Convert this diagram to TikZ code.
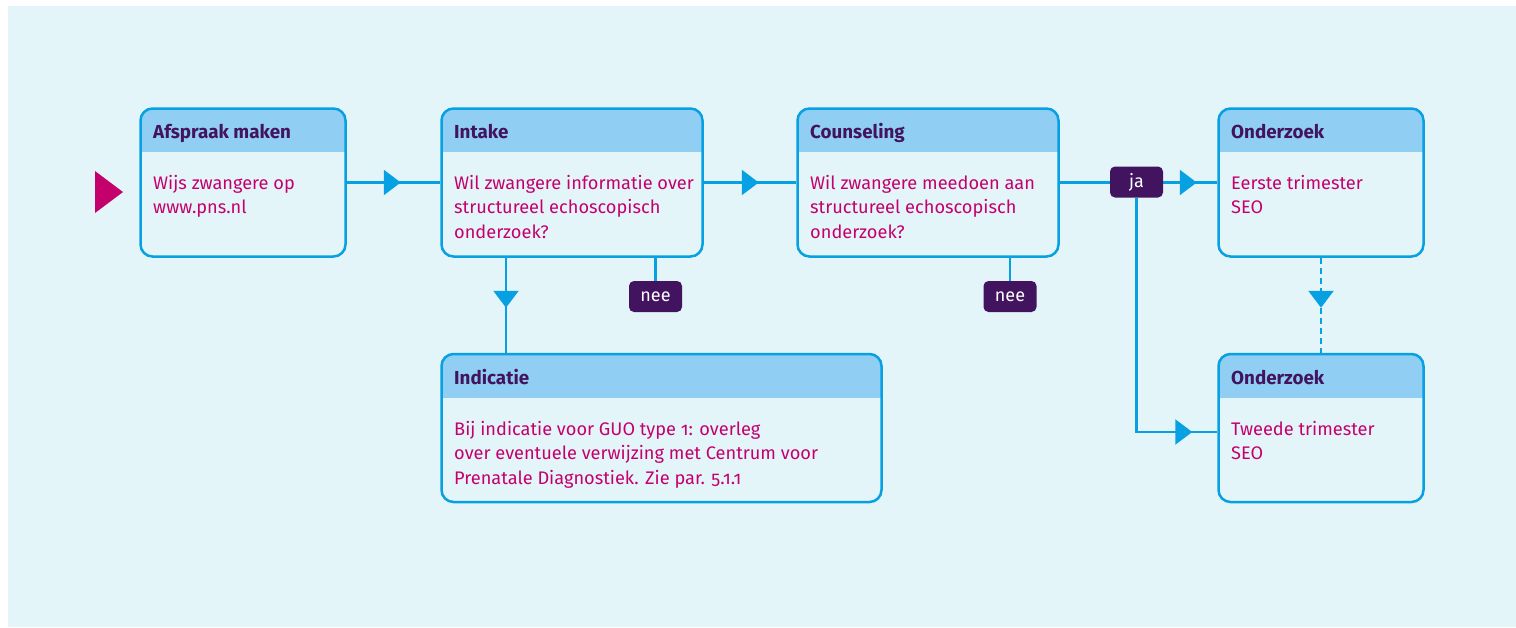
\documentclass[tikz,border=0pt]{standalone}
\usepackage{fontspec}
\setmainfont{Fira Sans}[Numbers=OldStyle]
\usetikzlibrary{arrows.meta,decorations.markings}
\definecolor{bgc}{HTML}{E4F5FA}
\definecolor{headc}{HTML}{90CFF3}
\definecolor{bordc}{HTML}{07A0E2}
\definecolor{purp}{HTML}{42145F}
\definecolor{magc}{HTML}{C4006D}
\tikzset{
  box/.style={draw=bordc, line width=2.5pt, fill=bgc, rounded corners=12pt, inner sep=0pt,
    path picture={\fill[headc, sharp corners] (path picture bounding box.north west) rectangle ([yshift=-43.5pt]path picture bounding box.north east);}},
  ttl/.style={anchor=base west, inner sep=0pt, text=purp, font=\fontsize{18.8}{20}\selectfont\bfseries},
  bodytxt/.style={anchor=base west, inner sep=0pt, text=magc, align=left, font=\fontsize{18.2}{24.5}\selectfont},
  tag/.style={fill=purp, text=white, rounded corners=5pt, minimum width=53pt, minimum height=31pt, inner sep=0pt, font=\fontsize{18}{20}\selectfont},
  conn/.style={draw=bordc, line width=2.5pt},
  tipat/.style={postaction={decorate}, decoration={markings, mark=at position #1 with {\arrow[bordc]{Triangle[length=17pt,width=25pt]}}}}
}
\begin{document}
\begin{tikzpicture}[x=1pt,y=-1pt]
\fill[white] (0,0) rectangle (1516,627);
\fill[bgc] (8,6) rectangle (1516,627);
\useasboundingbox (0,0) rectangle (1516,627);

% boxes
\node[box, minimum width=205pt, minimum height=148pt] (afs) at (243,182.5) {};
\node[box, minimum width=261pt, minimum height=148pt] (intake) at (572,182.5) {};
\node[box, minimum width=261pt, minimum height=148pt] (couns) at (928,182.5) {};
\node[box, minimum width=205pt, minimum height=148pt] (ond1) at (1321,182.5) {};
\node[box, minimum width=205pt, minimum height=148pt] (ond2) at (1321,428) {};
\node[box, minimum width=440pt, minimum height=148pt] (indic) at (661.5,428) {};

% titles
\node[ttl] (afs-t) at (153,138) {Afspraak maken};
\node[ttl] (intake-t) at (454,138) {Intake};
\node[ttl] (couns-t) at (810,138) {Counseling};
\node[ttl] (ond1-t) at (1231,138) {Onderzoek};
\node[ttl] (ond2-t) at (1231,384) {Onderzoek};
\node[ttl] (indic-t) at (454,384) {Indicatie};

% bodies (anchor = baseline of last line)
\node[bodytxt] (afs-b) at (153,213.5) {Wijs zwangere op\\www.pns.nl};
\node[bodytxt] (intake-b) at (454,238) {Wil zwangere informatie over\\structureel echoscopisch\\onderzoek?};
\node[bodytxt] (couns-b) at (810,238) {Wil zwangere meedoen aan\\structureel echoscopisch\\onderzoek?};
\node[bodytxt] (ond1-b) at (1231,213.5) {Eerste trimester\\SEO};
\node[bodytxt] (ond2-b) at (1231,459.5) {Tweede trimester\\SEO};
\node[bodytxt] (indic-b) at (454,484) {Bij indicatie voor GUO type 1: overleg\\over eventuele verwijzing met Centrum voor\\Prenatale Diagnostiek. Zie par. 5.1.1};

% start marker
\fill[magc] (95,171) -- (123,192) -- (95,213) -- cycle;

% tag nodes
\node[tag] (nee1) at (655.5,296.5) {nee};
\node[tag] (nee2) at (1010,296.5) {nee};
\coordinate (jaPos) at (1136.5,182);

% connectors
\draw[conn, tipat=54pt] (afs.east) -- (intake.west);
\draw[conn, tipat=55pt] (intake.east) -- (couns.west);
\draw[conn, tipat=137pt] (couns.east) -- (ond1.west);
\draw[conn, tipat=50pt] (intake.south -| 506,0) -- (indic.north -| 506,0);
\draw[conn] (intake.south -| nee1.north) -- (nee1.north);
\draw[conn] (couns.south -| nee2.north) -- (nee2.north);
\node[tag] (ja) at (jaPos) {ja};
\draw[conn, tipat=-25pt] (ja.south) |- ([yshift=-4pt]ond2.west);
\draw[conn, dash pattern=on 6pt off 4pt, tipat=50pt] (ond1.south) -- (ond2.north);
\end{tikzpicture}
\end{document}
